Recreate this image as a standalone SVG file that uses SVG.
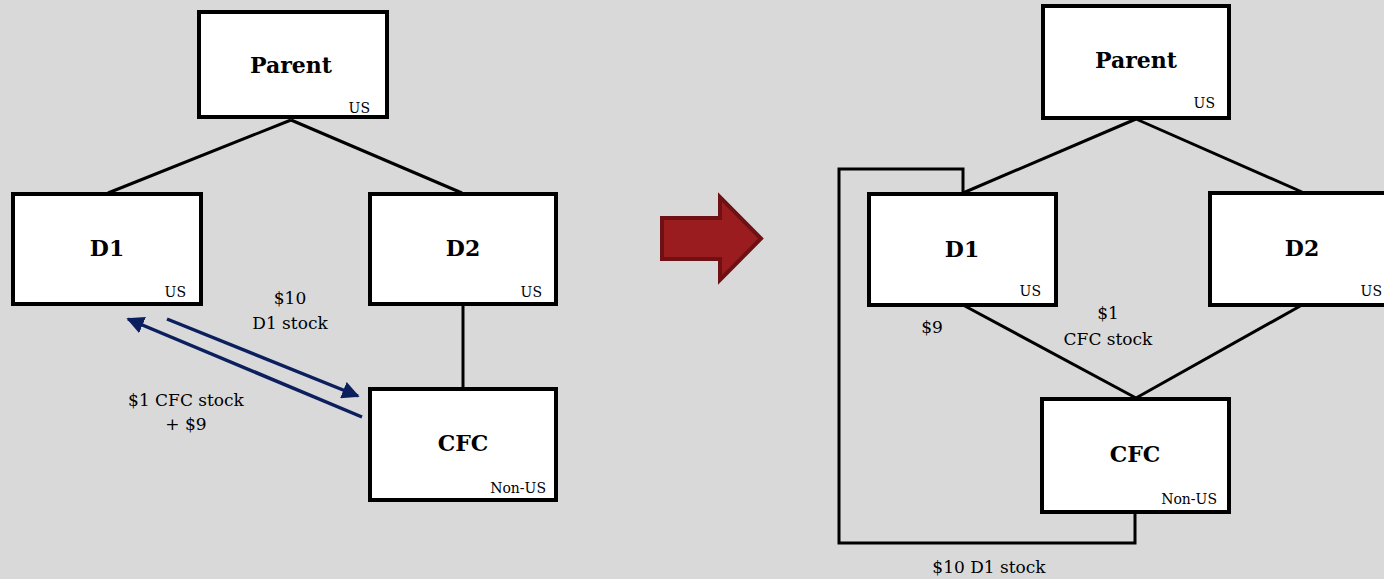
<svg xmlns="http://www.w3.org/2000/svg" width="1384" height="579" viewBox="0 0 1384 579">
<defs>
<style>
.box{fill:#fff;stroke:#000;stroke-width:4}
.ln{fill:none;stroke:#000;stroke-width:3}
.ar{fill:none;stroke:#0b1f5e;stroke-width:3.5}
.t{font-family:"DejaVu Serif","Liberation Serif",serif;fill:#000}
.big{font-size:22px;font-weight:bold;text-anchor:middle}
.sm{font-size:14px;text-anchor:end}
.lb{font-size:17px;text-anchor:middle}
</style>
<marker id="ah" viewBox="0 0 10 10" refX="9" refY="5" markerWidth="5" markerHeight="5" orient="auto" markerUnits="strokeWidth">
<path d="M0,0 L10,5 L0,10 z" fill="#0b1f5e"/>
</marker>
</defs>
<rect width="1384" height="579" fill="#d9d9d9"/>
<g id="connectors">
<line class="ln" x1="291" y1="120" x2="108" y2="193"/>
<line class="ln" x1="291" y1="120" x2="462" y2="193"/>
<line class="ln" x1="463" y1="305" x2="463" y2="388"/>
<line class="ar" x1="167" y1="319" x2="358" y2="396" marker-end="url(#ah)"/>
<line class="ar" x1="362" y1="417" x2="128" y2="319" marker-end="url(#ah)"/>
<line class="ln" x1="1136" y1="119" x2="963" y2="193"/>
<line class="ln" x1="1136" y1="119" x2="1302" y2="192"/>
<line class="ln" x1="963" y1="305" x2="1136" y2="398"/>
<line class="ln" x1="1302" y1="305" x2="1136" y2="398"/>
<polyline class="ln" points="1135,513 1135,543 839,543 839,169 963,169 963,193"/>
</g>
<g id="transfer-arrow">
<polygon points="662,218 720,218 720,197 761,238.5 720,280 720,259 662,259" fill="#9b1c1f" stroke="#6e1014" stroke-width="4" stroke-linejoin="miter"/>
</g>
<g id="parent-left">
<rect class="box" x="199" y="12" width="188" height="105"/>
<text class="t big" x="291" y="73">Parent</text>
<text class="t sm" x="370" y="113">US</text>
</g>
<g id="d1-left">
<rect class="box" x="13" y="194" width="188" height="110"/>
<text class="t big" x="107" y="256">D1</text>
<text class="t sm" x="186" y="297">US</text>
</g>
<g id="d2-left">
<rect class="box" x="370" y="194" width="186" height="110"/>
<text class="t big" x="463" y="256">D2</text>
<text class="t sm" x="542" y="297">US</text>
</g>
<g id="cfc-left">
<rect class="box" x="370" y="389" width="186" height="111"/>
<text class="t big" x="463" y="451">CFC</text>
<text class="t sm" x="546" y="493">Non-US</text>
</g>
<g id="labels-left">
<text class="t lb" x="290" y="304">$10</text>
<text class="t lb" x="290" y="329">D1 stock</text>
<text class="t lb" x="186" y="406">$1 CFC stock</text>
<text class="t lb" x="186" y="430">+ $9</text>
</g>
<g id="parent-right">
<rect class="box" x="1043" y="6" width="186" height="112"/>
<text class="t big" x="1136" y="68">Parent</text>
<text class="t sm" x="1215" y="108">US</text>
</g>
<g id="d1-right">
<rect class="box" x="869" y="194" width="187" height="111"/>
<text class="t big" x="962" y="257">D1</text>
<text class="t sm" x="1041" y="296">US</text>
</g>
<g id="d2-right">
<rect class="box" x="1210" y="193" width="190" height="112"/>
<text class="t big" x="1302" y="256">D2</text>
<text class="t sm" x="1382" y="296">US</text>
</g>
<g id="cfc-right">
<rect class="box" x="1042" y="399" width="187" height="113"/>
<text class="t big" x="1135" y="462">CFC</text>
<text class="t sm" x="1217" y="504">Non-US</text>
</g>
<g id="labels-right">
<text class="t lb" x="932" y="333">$9</text>
<text class="t lb" x="1108" y="319">$1</text>
<text class="t lb" x="1108" y="345">CFC stock</text>
<text class="t lb" x="989" y="573">$10 D1 stock</text>
</g>
</svg>
